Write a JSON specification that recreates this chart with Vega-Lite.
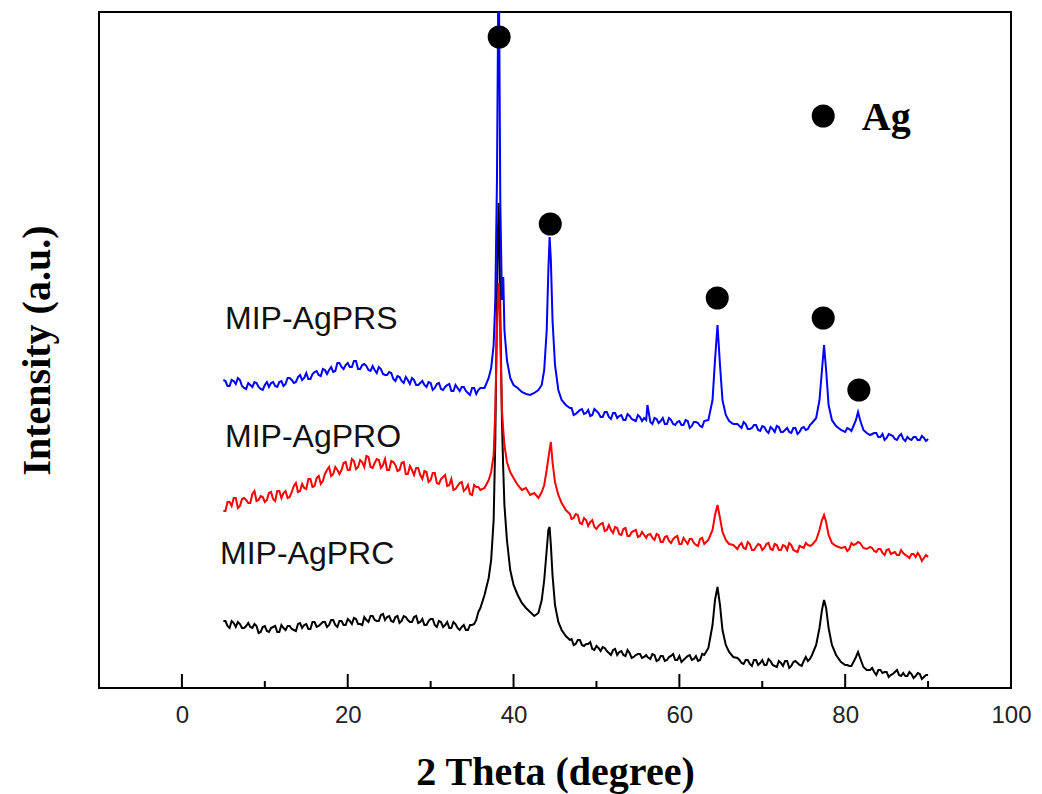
{
  "$schema": "https://vega.github.io/schema/vega-lite/v6.json",
  "width": 912,
  "height": 676,
  "autosize": {"type": "none"},
  "padding": {"left": 99, "top": 12, "right": 31, "bottom": 106},
  "background": "white",
  "config": {"view": {"stroke": "#000000", "strokeWidth": 2}, "font": "Liberation Sans"},
  "datasets": {
    "xrd": [
      {"x":5,"PRS":308,"PRO":177,"PRC":67},
      {"x":5.5,"PRS":302,"PRO":186,"PRC":62},
      {"x":6,"PRS":308,"PRO":182,"PRC":67},
      {"x":6.5,"PRS":304,"PRO":190,"PRC":61},
      {"x":7,"PRS":308,"PRO":182,"PRC":64},
      {"x":7.5,"PRS":300,"PRO":190,"PRC":60},
      {"x":8,"PRS":305,"PRO":185,"PRC":65},
      {"x":8.5,"PRS":301,"PRO":194,"PRC":60},
      {"x":9,"PRS":305,"PRO":187,"PRC":62},
      {"x":9.5,"PRS":299,"PRO":192,"PRC":56},
      {"x":10,"PRS":303,"PRO":186,"PRC":62},
      {"x":10.5,"PRS":301,"PRO":195,"PRC":56},
      {"x":11,"PRS":306,"PRO":189,"PRC":61},
      {"x":11.5,"PRS":301,"PRO":197,"PRC":56},
      {"x":12,"PRS":307,"PRO":190,"PRC":63},
      {"x":12.5,"PRS":304,"PRO":197,"PRC":58},
      {"x":13,"PRS":310,"PRO":191,"PRC":62},
      {"x":13.5,"PRS":305,"PRO":202,"PRC":58},
      {"x":14,"PRS":311,"PRO":196,"PRC":64},
      {"x":14.5,"PRS":308,"PRO":204,"PRC":60},
      {"x":15,"PRS":315,"PRO":199,"PRC":64},
      {"x":15.5,"PRS":309,"PRO":209,"PRC":59},
      {"x":16,"PRS":316,"PRO":202,"PRC":66},
      {"x":16.5,"PRS":313,"PRO":212,"PRC":62},
      {"x":17,"PRS":319,"PRO":207,"PRC":66},
      {"x":17.5,"PRS":314,"PRO":218,"PRC":61},
      {"x":18,"PRS":321,"PRO":212,"PRC":68},
      {"x":18.5,"PRS":317,"PRO":221,"PRC":63},
      {"x":19,"PRS":325,"PRO":214,"PRC":67},
      {"x":19.5,"PRS":319,"PRO":225,"PRC":63},
      {"x":20,"PRS":325,"PRO":218,"PRC":69},
      {"x":20.5,"PRS":321,"PRO":229,"PRC":64},
      {"x":21,"PRS":327,"PRO":219,"PRC":69},
      {"x":21.5,"PRS":319,"PRO":228,"PRC":64},
      {"x":22,"PRS":324,"PRO":221,"PRC":71},
      {"x":22.5,"PRS":318,"PRO":231,"PRC":66},
      {"x":23,"PRS":322,"PRO":220,"PRC":72},
      {"x":23.5,"PRS":315,"PRO":229,"PRC":67},
      {"x":24,"PRS":319,"PRO":220,"PRC":73},
      {"x":24.5,"PRS":313,"PRO":229,"PRC":68},
      {"x":25,"PRS":316,"PRO":218,"PRC":72},
      {"x":25.5,"PRS":309,"PRO":226,"PRC":66},
      {"x":26,"PRS":312,"PRO":217,"PRC":72},
      {"x":26.5,"PRS":307,"PRO":225,"PRC":67},
      {"x":27,"PRS":311,"PRO":214,"PRC":71},
      {"x":27.5,"PRS":304,"PRO":222,"PRC":66},
      {"x":28,"PRS":308,"PRO":213,"PRC":71},
      {"x":28.5,"PRS":303,"PRO":220,"PRC":65},
      {"x":29,"PRS":307,"PRO":209,"PRC":69},
      {"x":29.5,"PRS":301,"PRO":216,"PRC":63},
      {"x":30,"PRS":305,"PRO":208,"PRC":69},
      {"x":30.5,"PRS":300,"PRO":215,"PRC":63},
      {"x":31,"PRS":305,"PRO":204,"PRC":67},
      {"x":31.5,"PRS":298,"PRO":211,"PRC":61},
      {"x":32,"PRS":303,"PRO":202,"PRC":66},
      {"x":32.5,"PRS":297,"PRO":209,"PRC":60},
      {"x":33,"PRS":303,"PRO":199,"PRC":64},
      {"x":33.5,"PRS":297,"PRO":205,"PRC":58},
      {"x":34,"PRS":301,"PRO":197,"PRC":63},
      {"x":34.5,"PRS":295,"PRO":203,"PRC":58},
      {"x":35,"PRS":300,"PRO":193,"PRC":63},
      {"x":35.5,"PRS":294,"PRO":201,"PRC":68},
      {"x":36,"PRS":300,"PRO":198,"PRC":80},
      {"x":36.5,"PRS":300,"PRO":200,"PRC":93},
      {"x":37,"PRS":310,"PRO":208,"PRC":110},
      {"x":37.3,"PRS":320,"PRO":216,"PRC":128},
      {"x":37.6,"PRS":343,"PRO":233,"PRC":168},
      {"x":37.8,"PRS":388,"PRO":278,"PRC":248},
      {"x":38.0,"PRS":508,"PRO":358,"PRC":388},
      {"x":38.1,"PRS":628,"PRO":388,"PRC":448},
      {"x":38.2,"PRS":748,"PRO":405,"PRC":485},
      {"x":38.3,"PRS":628,"PRO":388,"PRC":448},
      {"x":38.4,"PRS":488,"PRO":348,"PRC":378},
      {"x":38.6,"PRS":388,"PRO":278,"PRC":268},
      {"x":38.76,"PRS":411,"PRO":258,"PRC":218},
      {"x":38.9,"PRS":358,"PRO":243,"PRC":183},
      {"x":39.2,"PRS":328,"PRO":226,"PRC":148},
      {"x":39.6,"PRS":310,"PRO":216,"PRC":118},
      {"x":40,"PRS":303,"PRO":210,"PRC":103},
      {"x":40.5,"PRS":300,"PRO":203,"PRC":93},
      {"x":41,"PRS":296,"PRO":198,"PRC":85},
      {"x":41.5,"PRS":294,"PRO":200,"PRC":80},
      {"x":42,"PRS":293,"PRO":193,"PRC":76},
      {"x":42.5,"PRS":295,"PRO":195,"PRC":72},
      {"x":43,"PRS":298,"PRO":190,"PRC":75},
      {"x":43.4,"PRS":303,"PRO":196,"PRC":88},
      {"x":43.7,"PRS":318,"PRO":203,"PRC":108},
      {"x":44.0,"PRS":358,"PRO":218,"PRC":138},
      {"x":44.2,"PRS":418,"PRO":230,"PRC":158},
      {"x":44.35,"PRS":451,"PRO":238,"PRC":161},
      {"x":44.5,"PRS":428,"PRO":246,"PRC":143},
      {"x":44.7,"PRS":368,"PRO":226,"PRC":113},
      {"x":45.0,"PRS":323,"PRO":206,"PRC":83},
      {"x":45.4,"PRS":298,"PRO":193,"PRC":66},
      {"x":45.8,"PRS":288,"PRO":185,"PRC":58},
      {"x":46.3,"PRS":283,"PRO":178,"PRC":52},
      {"x":46.8,"PRS":280,"PRO":174,"PRC":48},
      {"x":47,"PRS":280,"PRO":169,"PRC":49},
      {"x":47.5,"PRS":274,"PRO":174,"PRC":44},
      {"x":48,"PRS":278,"PRO":165,"PRC":48},
      {"x":48.5,"PRS":274,"PRO":170,"PRC":42},
      {"x":49,"PRS":278,"PRO":162,"PRC":44},
      {"x":49.5,"PRS":273,"PRO":168,"PRC":39},
      {"x":50,"PRS":277,"PRO":159,"PRC":42},
      {"x":50.5,"PRS":271,"PRO":164,"PRC":37},
      {"x":51,"PRS":276,"PRO":157,"PRC":40},
      {"x":51.5,"PRS":271,"PRO":163,"PRC":35},
      {"x":52,"PRS":275,"PRO":155,"PRC":38},
      {"x":52.5,"PRS":270,"PRO":160,"PRC":33},
      {"x":53,"PRS":273,"PRO":153,"PRC":37},
      {"x":53.5,"PRS":268,"PRO":160,"PRC":32},
      {"x":54,"PRS":272,"PRO":152,"PRC":35},
      {"x":54.5,"PRS":268,"PRO":157,"PRC":31},
      {"x":55,"PRS":273,"PRO":151,"PRC":34},
      {"x":55.5,"PRS":267,"PRO":156,"PRC":30},
      {"x":56,"PRS":268,"PRO":150,"PRC":33},
      {"x":56.15,"PRS":283,"PRO":153,"PRC":31},
      {"x":56.5,"PRS":266,"PRO":154,"PRC":29},
      {"x":57,"PRS":270,"PRO":148,"PRC":33},
      {"x":57.5,"PRS":265,"PRO":153,"PRC":28},
      {"x":58,"PRS":270,"PRO":146,"PRC":32},
      {"x":58.5,"PRS":264,"PRO":152,"PRC":28},
      {"x":59,"PRS":268,"PRO":145,"PRC":32},
      {"x":59.5,"PRS":263,"PRO":151,"PRC":28},
      {"x":60,"PRS":267,"PRO":144,"PRC":32},
      {"x":60.5,"PRS":263,"PRO":150,"PRC":28},
      {"x":61,"PRS":267,"PRO":144,"PRC":32},
      {"x":61.5,"PRS":262,"PRO":149,"PRC":28},
      {"x":62,"PRS":266,"PRO":143,"PRC":32},
      {"x":62.5,"PRS":262,"PRO":149,"PRC":28},
      {"x":63,"PRS":267,"PRO":144,"PRC":33},
      {"x":63.5,"PRS":268,"PRO":148,"PRC":40},
      {"x":64.0,"PRS":288,"PRO":158,"PRC":63},
      {"x":64.3,"PRS":328,"PRO":173,"PRC":88},
      {"x":64.6,"PRS":363,"PRO":183,"PRC":101},
      {"x":64.9,"PRS":323,"PRO":170,"PRC":83},
      {"x":65.2,"PRS":288,"PRO":156,"PRC":58},
      {"x":65.6,"PRS":273,"PRO":148,"PRC":43},
      {"x":66,"PRS":267,"PRO":144,"PRC":36},
      {"x":66.5,"PRS":264,"PRO":143,"PRC":31},
      {"x":67,"PRS":264,"PRO":139,"PRC":30},
      {"x":67.5,"PRS":260,"PRO":145,"PRC":25},
      {"x":68,"PRS":264,"PRO":139,"PRC":28},
      {"x":68.5,"PRS":259,"PRO":144,"PRC":24},
      {"x":69,"PRS":263,"PRO":138,"PRC":28},
      {"x":69.5,"PRS":258,"PRO":144,"PRC":23},
      {"x":70,"PRS":262,"PRO":138,"PRC":28},
      {"x":70.5,"PRS":257,"PRO":144,"PRC":23},
      {"x":71,"PRS":261,"PRO":139,"PRC":27},
      {"x":71.5,"PRS":256,"PRO":144,"PRC":22},
      {"x":72,"PRS":261,"PRO":138,"PRC":27},
      {"x":72.5,"PRS":256,"PRO":143,"PRC":22},
      {"x":73,"PRS":260,"PRO":138,"PRC":27},
      {"x":73.5,"PRS":255,"PRO":143,"PRC":22},
      {"x":74,"PRS":260,"PRO":137,"PRC":27},
      {"x":74.5,"PRS":256,"PRO":142,"PRC":23},
      {"x":75,"PRS":261,"PRO":140,"PRC":27},
      {"x":75.5,"PRS":259,"PRO":143,"PRC":27},
      {"x":76,"PRS":265,"PRO":143,"PRC":33},
      {"x":76.5,"PRS":270,"PRO":148,"PRC":43},
      {"x":76.9,"PRS":288,"PRO":158,"PRC":60},
      {"x":77.2,"PRS":318,"PRO":168,"PRC":78},
      {"x":77.45,"PRS":343,"PRO":173,"PRC":88},
      {"x":77.7,"PRS":318,"PRO":166,"PRC":80},
      {"x":78.0,"PRS":283,"PRO":153,"PRC":60},
      {"x":78.4,"PRS":268,"PRO":145,"PRC":43},
      {"x":78.9,"PRS":262,"PRO":142,"PRC":33},
      {"x":79.5,"PRS":258,"PRO":140,"PRC":26},
      {"x":80,"PRS":256,"PRO":141,"PRC":23},
      {"x":80.5,"PRS":259,"PRO":139,"PRC":22},
      {"x":81,"PRS":262,"PRO":143,"PRC":26},
      {"x":81.3,"PRS":268,"PRO":144,"PRC":31},
      {"x":81.55,"PRS":276,"PRO":146,"PRC":36},
      {"x":81.8,"PRS":268,"PRO":145,"PRC":30},
      {"x":82.2,"PRS":258,"PRO":140,"PRC":21},
      {"x":82.6,"PRS":255,"PRO":139,"PRC":18},
      {"x":83,"PRS":253,"PRO":141,"PRC":18},
      {"x":83.5,"PRS":255,"PRO":137,"PRC":16},
      {"x":84,"PRS":251,"PRO":139,"PRC":18},
      {"x":84.5,"PRS":254,"PRO":135,"PRC":15},
      {"x":85,"PRS":250,"PRO":138,"PRC":16},
      {"x":85.5,"PRS":253,"PRO":134,"PRC":13},
      {"x":86,"PRS":249,"PRO":136,"PRC":16},
      {"x":86.5,"PRS":252,"PRO":133,"PRC":13},
      {"x":87,"PRS":249,"PRO":135,"PRC":15},
      {"x":87.5,"PRS":251,"PRO":132,"PRC":12},
      {"x":88,"PRS":248,"PRO":134,"PRC":14},
      {"x":88.5,"PRS":251,"PRO":131,"PRC":12},
      {"x":89,"PRS":248,"PRO":132,"PRC":14},
      {"x":89.5,"PRS":250,"PRO":130,"PRC":11},
      {"x":90,"PRS":249,"PRO":131,"PRC":13},
      {"x":5.25,"PRS":307,"PRO":177,"PRC":67},
      {"x":5.75,"PRS":302,"PRO":186,"PRC":60},
      {"x":6.25,"PRS":307,"PRO":190,"PRC":65},
      {"x":6.75,"PRS":310,"PRO":180,"PRC":66},
      {"x":7.25,"PRS":302,"PRO":189,"PRC":60},
      {"x":7.75,"PRS":299,"PRO":188,"PRC":62},
      {"x":8.25,"PRS":303,"PRO":185,"PRC":61},
      {"x":8.75,"PRS":306,"PRO":197,"PRC":64},
      {"x":9.25,"PRS":301,"PRO":188,"PRC":55},
      {"x":9.75,"PRS":298,"PRO":191,"PRC":61},
      {"x":10.25,"PRS":306,"PRO":188,"PRC":57},
      {"x":10.75,"PRS":305,"PRO":196,"PRC":60},
      {"x":11.25,"PRS":302,"PRO":187,"PRC":62},
      {"x":11.75,"PRS":306,"PRO":197,"PRC":56},
      {"x":12.25,"PRS":302,"PRO":195,"PRC":60},
      {"x":12.75,"PRS":310,"PRO":190,"PRC":62},
      {"x":13.25,"PRS":308,"PRO":196,"PRC":59},
      {"x":13.75,"PRS":306,"PRO":205,"PRC":57},
      {"x":14.25,"PRS":313,"PRO":197,"PRC":65},
      {"x":14.75,"PRS":310,"PRO":200,"PRC":63},
      {"x":15.25,"PRS":309,"PRO":209,"PRC":59},
      {"x":15.75,"PRS":314,"PRO":201,"PRC":66},
      {"x":16.25,"PRS":317,"PRO":210,"PRC":61},
      {"x":16.75,"PRS":312,"PRO":204,"PRC":64},
      {"x":17.25,"PRS":318,"PRO":214,"PRC":66},
      {"x":17.75,"PRS":318,"PRO":221,"PRC":63},
      {"x":18.25,"PRS":316,"PRO":214,"PRC":68},
      {"x":18.75,"PRS":325,"PRO":218,"PRC":61},
      {"x":19.25,"PRS":321,"PRO":218,"PRC":67},
      {"x":19.75,"PRS":323,"PRO":226,"PRC":63},
      {"x":20.25,"PRS":321,"PRO":218,"PRC":67},
      {"x":20.75,"PRS":327,"PRO":227,"PRC":70},
      {"x":21.25,"PRS":319,"PRO":221,"PRC":64},
      {"x":21.75,"PRS":323,"PRO":226,"PRC":63},
      {"x":22.25,"PRS":322,"PRO":232,"PRC":68},
      {"x":22.75,"PRS":317,"PRO":221,"PRC":72},
      {"x":23.25,"PRS":318,"PRO":225,"PRC":68},
      {"x":23.75,"PRS":321,"PRO":228,"PRC":67},
      {"x":24.25,"PRS":314,"PRO":223,"PRC":74},
      {"x":24.75,"PRS":313,"PRO":218,"PRC":71},
      {"x":25.25,"PRS":315,"PRO":227,"PRC":67},
      {"x":25.75,"PRS":307,"PRO":223,"PRC":71},
      {"x":26.25,"PRS":311,"PRO":218,"PRC":65},
      {"x":26.75,"PRS":305,"PRO":226,"PRC":72},
      {"x":27.25,"PRS":308,"PRO":214,"PRC":68},
      {"x":27.75,"PRS":310,"PRO":218,"PRC":66},
      {"x":28.25,"PRS":303,"PRO":220,"PRC":72},
      {"x":28.75,"PRS":305,"PRO":213,"PRC":66},
      {"x":29.25,"PRS":303,"PRO":217,"PRC":63},
      {"x":29.75,"PRS":306,"PRO":206,"PRC":67},
      {"x":30.25,"PRS":298,"PRO":215,"PRC":69},
      {"x":30.75,"PRS":304,"PRO":205,"PRC":61},
      {"x":31.25,"PRS":299,"PRO":209,"PRC":66},
      {"x":31.75,"PRS":301,"PRO":213,"PRC":63},
      {"x":32.25,"PRS":304,"PRO":203,"PRC":60},
      {"x":32.75,"PRS":297,"PRO":198,"PRC":66},
      {"x":33.25,"PRS":300,"PRO":202,"PRC":60},
      {"x":33.75,"PRS":301,"PRO":206,"PRC":61},
      {"x":34.25,"PRS":297,"PRO":199,"PRC":58},
      {"x":34.75,"PRS":293,"PRO":194,"PRC":63},
      {"x":35.25,"PRS":300,"PRO":203,"PRC":64},
      {"x":35.75,"PRS":298,"PRO":201,"PRC":76},
      {"x":47.25,"PRS":273,"PRO":170,"PRC":43},
      {"x":47.75,"PRS":276,"PRO":173,"PRC":48},
      {"x":48.25,"PRS":279,"PRO":164,"PRC":43},
      {"x":48.75,"PRS":275,"PRO":168,"PRC":44},
      {"x":49.25,"PRS":272,"PRO":166,"PRC":46},
      {"x":49.75,"PRS":279,"PRO":161,"PRC":38},
      {"x":50.25,"PRS":275,"PRO":162,"PRC":40},
      {"x":50.75,"PRS":271,"PRO":165,"PRC":41},
      {"x":51.25,"PRS":276,"PRO":158,"PRC":37},
      {"x":51.75,"PRS":269,"PRO":158,"PRC":33},
      {"x":52.25,"PRS":275,"PRO":161,"PRC":39},
      {"x":52.75,"PRS":272,"PRO":154,"PRC":36},
      {"x":53.25,"PRS":268,"PRO":159,"PRC":33},
      {"x":53.75,"PRS":274,"PRO":152,"PRC":38},
      {"x":54.25,"PRS":269,"PRO":156,"PRC":30},
      {"x":54.75,"PRS":267,"PRO":158,"PRC":33},
      {"x":55.25,"PRS":271,"PRO":152,"PRC":34},
      {"x":55.75,"PRS":270,"PRO":153,"PRC":31},
      {"x":56.75,"PRS":264,"PRO":150,"PRC":34},
      {"x":57.25,"PRS":269,"PRO":154,"PRC":27},
      {"x":57.75,"PRS":267,"PRO":146,"PRC":32},
      {"x":58.25,"PRS":264,"PRO":151,"PRC":27},
      {"x":58.75,"PRS":270,"PRO":147,"PRC":31},
      {"x":59.25,"PRS":264,"PRO":149,"PRC":34},
      {"x":59.75,"PRS":266,"PRO":152,"PRC":28},
      {"x":60.25,"PRS":263,"PRO":144,"PRC":26},
      {"x":60.75,"PRS":268,"PRO":147,"PRC":30},
      {"x":61.25,"PRS":260,"PRO":149,"PRC":33},
      {"x":61.75,"PRS":266,"PRO":145,"PRC":29},
      {"x":62.25,"PRS":265,"PRO":142,"PRC":27},
      {"x":62.75,"PRS":261,"PRO":150,"PRC":34},
      {"x":67.25,"PRS":262,"PRO":143,"PRC":28},
      {"x":67.75,"PRS":266,"PRO":140,"PRC":24},
      {"x":68.25,"PRS":259,"PRO":146,"PRC":28},
      {"x":68.75,"PRS":260,"PRO":138,"PRC":22},
      {"x":69.25,"PRS":263,"PRO":141,"PRC":28},
      {"x":69.75,"PRS":257,"PRO":143,"PRC":25},
      {"x":70.25,"PRS":261,"PRO":140,"PRC":23},
      {"x":70.75,"PRS":255,"PRO":145,"PRC":29},
      {"x":71.25,"PRS":259,"PRO":138,"PRC":23},
      {"x":71.75,"PRS":262,"PRO":143,"PRC":21},
      {"x":72.25,"PRS":256,"PRO":138,"PRC":25},
      {"x":72.75,"PRS":258,"PRO":142,"PRC":27},
      {"x":73.25,"PRS":256,"PRO":145,"PRC":20},
      {"x":73.75,"PRS":260,"PRO":138,"PRC":26},
      {"x":74.25,"PRS":254,"PRO":136,"PRC":25},
      {"x":74.75,"PRS":260,"PRO":141,"PRC":22},
      {"x":75.25,"PRS":258,"PRO":145,"PRC":31},
      {"x":75.75,"PRS":263,"PRO":142,"PRC":29},
      {"x":80.25,"PRS":260,"PRO":137,"PRC":23},
      {"x":80.75,"PRS":257,"PRO":145,"PRC":22},
      {"x":83.25,"PRS":254,"PRO":140,"PRC":20},
      {"x":83.75,"PRS":255,"PRO":136,"PRC":13},
      {"x":84.25,"PRS":251,"PRO":139,"PRC":18},
      {"x":84.75,"PRS":248,"PRO":133,"PRC":16},
      {"x":85.25,"PRS":254,"PRO":139,"PRC":11},
      {"x":85.75,"PRS":252,"PRO":135,"PRC":14},
      {"x":86.25,"PRS":248,"PRO":133,"PRC":18},
      {"x":86.75,"PRS":254,"PRO":138,"PRC":12},
      {"x":87.25,"PRS":247,"PRO":133,"PRC":12},
      {"x":87.75,"PRS":249,"PRO":130,"PRC":16},
      {"x":88.25,"PRS":251,"PRO":134,"PRC":10},
      {"x":88.75,"PRS":248,"PRO":135,"PRC":15},
      {"x":89.25,"PRS":252,"PRO":127,"PRC":9},
      {"x":89.75,"PRS":247,"PRO":133,"PRC":13}
    ],
    "dots": [
      {"x":38.27,"v":651},
      {"x":44.43,"v":464},
      {"x":64.57,"v":390},
      {"x":77.35,"v":370},
      {"x":81.65,"v":298},
      {"x":77.35,"v":572}
    ],
    "labels": [
      {"t":"MIP-AgPRS","x":5.2,"v":359},
      {"t":"MIP-AgPRO","x":5.2,"v":241},
      {"t":"MIP-AgPRC","x":4.6,"v":124}
    ]
  },
  "layer": [
    {
      "data": {"name": "xrd"},
      "transform": [{"fold": ["PRC", "PRO", "PRS"], "as": ["s", "v"]}],
      "mark": {"type": "line", "strokeWidth": 2, "clip": true},
      "encoding": {
        "x": {
          "field": "x", "type": "quantitative",
          "scale": {"domain": [-10, 100], "nice": false, "zero": false},
          "axis": {
            "title": "2 Theta (degree)",
            "titleFont": "Liberation Serif", "titleFontWeight": "bold", "titleFontSize": 40, "titleColor": "#000000",
            "titlePadding": 25,
            "values": [0, 20, 40, 60, 80, 100],
            "ticks": false, "tickSize": 0,
            "domain": false, "grid": false,
            "labelFont": "Liberation Sans", "labelFontSize": 24, "labelColor": "#222222",
            "labelPadding": 15, "labelFlush": false, "labelOverlap": false
          }
        },
        "y": {
          "field": "v", "type": "quantitative",
          "scale": {"domain": [0, 676], "nice": false, "zero": false},
          "axis": {
            "title": "Intensity (a.u.)",
            "titleFont": "Liberation Serif", "titleFontWeight": "bold", "titleFontSize": 40, "titleColor": "#000000",
            "titlePadding": 42,
            "labels": false, "ticks": false, "domain": false, "grid": false
          }
        },
        "color": {
          "field": "s", "type": "nominal",
          "scale": {"domain": ["PRC", "PRO", "PRS"], "range": ["#000000", "#ff0000", "#0000ff"]},
          "legend": null
        }
      }
    },
    {
      "data": {"values": [{"x": 0}, {"x": 20}, {"x": 40}, {"x": 60}, {"x": 80}]},
      "mark": {"type": "tick", "orient": "vertical", "size": 14, "thickness": 2, "yOffset": -7, "color": "#000000", "opacity": 1},
      "encoding": {
        "x": {"field": "x", "type": "quantitative"},
        "y": {"datum": 0, "type": "quantitative"}
      }
    },
    {
      "data": {"values": [{"x": 10}, {"x": 30}, {"x": 50}, {"x": 70}, {"x": 90}]},
      "mark": {"type": "tick", "orient": "vertical", "size": 7, "thickness": 2, "yOffset": -3.5, "color": "#000000", "opacity": 1},
      "encoding": {
        "x": {"field": "x", "type": "quantitative"},
        "y": {"datum": 0, "type": "quantitative"}
      }
    },
    {
      "data": {"name": "dots"},
      "mark": {"type": "point", "filled": true, "shape": "circle", "size": 530, "color": "#000000", "opacity": 1},
      "encoding": {
        "x": {"field": "x", "type": "quantitative"},
        "y": {"field": "v", "type": "quantitative"}
      }
    },
    {
      "data": {"name": "labels"},
      "mark": {"type": "text", "align": "left", "baseline": "alphabetic", "font": "Liberation Sans", "fontSize": 32, "color": "#111111"},
      "encoding": {
        "x": {"field": "x", "type": "quantitative"},
        "y": {"field": "v", "type": "quantitative"},
        "text": {"field": "t"}
      }
    },
    {
      "data": {"values": [{"t": "Ag", "x": 82.0, "v": 570}]},
      "mark": {"type": "text", "align": "left", "baseline": "middle", "font": "Liberation Serif", "fontWeight": "bold", "fontSize": 40, "color": "#000000"},
      "encoding": {
        "x": {"field": "x", "type": "quantitative"},
        "y": {"field": "v", "type": "quantitative"},
        "text": {"field": "t"}
      }
    }
  ]
}
